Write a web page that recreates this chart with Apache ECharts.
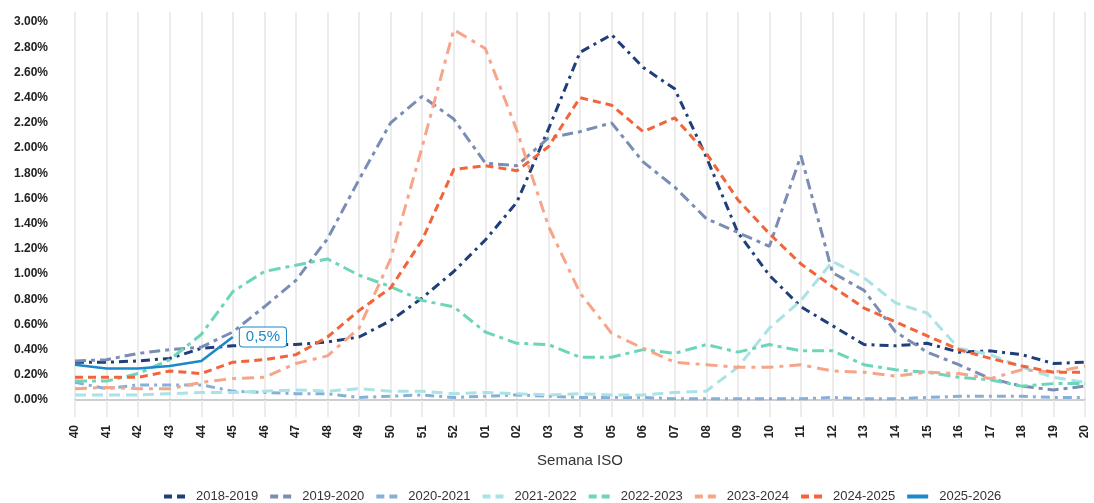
<!DOCTYPE html>
<html>
<head>
<meta charset="utf-8">
<title>Semana ISO</title>
<script src="https://cdn.jsdelivr.net/npm/echarts@6/dist/echarts.min.js"></script>
<style>
  html, body { margin: 0; padding: 0; background: #fff; }
  #chart { width: 1094px; height: 503px; }
</style>
</head>
<body>
<div id="chart"></div>
<script>
const weeks = ['40', '41', '42', '43', '44', '45', '46', '47', '48', '49', '50', '51', '52',
  '01', '02', '03', '04', '05', '06', '07', '08', '09', '10', '11', '12', '13', '14', '15',
  '16', '17', '18', '19', '20']

const s2018 = [0.30, 0.30, 0.31, 0.33, 0.41, 0.43, 0.44, 0.44, 0.46, 0.50, 0.63, 0.81, 1.02,
  1.27, 1.57, 2.15, 2.76, 2.90, 2.64, 2.47, 1.93, 1.33, 0.99, 0.74, 0.59, 0.44, 0.43, 0.45,
  0.38, 0.39, 0.36, 0.29, 0.30]
const s2019 = [0.31, 0.32, 0.37, 0.40, 0.42, 0.54, 0.74, 0.95, 1.28, 1.75, 2.20, 2.41, 2.23,
  1.88, 1.86, 2.08, 2.13, 2.20, 1.89, 1.69, 1.44, 1.33, 1.22, 1.94, 1.01, 0.87, 0.54, 0.38,
  0.28, 0.17, 0.11, 0.08, 0.11]
const s2020 = [0.14, 0.09, 0.12, 0.12, 0.12, 0.07, 0.06, 0.05, 0.05, 0.02, 0.03, 0.04, 0.02,
  0.03, 0.04, 0.03, 0.02, 0.02, 0.02, 0.01, 0.01, 0.01, 0.01, 0.01, 0.02, 0.01, 0.01, 0.02,
  0.03, 0.03, 0.03, 0.02, 0.02]
const s2021 = [0.04, 0.04, 0.04, 0.05, 0.06, 0.06, 0.07, 0.08, 0.07, 0.09, 0.07, 0.07, 0.05,
  0.06, 0.05, 0.04, 0.05, 0.04, 0.04, 0.06, 0.07, 0.26, 0.57, 0.79, 1.10, 0.97, 0.77, 0.69,
  0.41, 0.36, 0.26, 0.18, 0.14]
const s2022 = [0.15, 0.15, 0.21, 0.32, 0.52, 0.86, 1.02, 1.07, 1.12, 0.99, 0.90, 0.79, 0.74,
  0.54, 0.45, 0.44, 0.34, 0.34, 0.40, 0.37, 0.44, 0.38, 0.44, 0.39, 0.39, 0.28, 0.24, 0.22,
  0.18, 0.16, 0.11, 0.13, 0.13]
const s2023 = [0.09, 0.10, 0.09, 0.09, 0.14, 0.17, 0.18, 0.29, 0.35, 0.57, 1.12, 2.01, 2.94,
  2.79, 2.14, 1.38, 0.85, 0.53, 0.41, 0.30, 0.28, 0.26, 0.26, 0.28, 0.23, 0.22, 0.19, 0.22,
  0.21, 0.17, 0.24, 0.22, 0.27]
const s2024 = [0.18, 0.18, 0.18, 0.23, 0.21, 0.30, 0.32, 0.36, 0.50, 0.71, 0.89, 1.27, 1.83,
  1.86, 1.82, 2.01, 2.40, 2.34, 2.13, 2.24, 1.96, 1.59, 1.32, 1.08, 0.90, 0.73, 0.62, 0.51,
  0.40, 0.33, 0.27, 0.22, 0.22]
const s2025 = [0.28, 0.25, 0.25, 0.27, 0.31, 0.50]

const seasons = ['2018-2019', '2019-2020', '2020-2021', '2021-2022', '2022-2023', '2023-2024',
  '2024-2025', '2025-2026']
const seasonData = [s2018, s2019, s2020, s2021, s2022, s2023, s2024, s2025]
const seasonColors = ['#1f3f7a', '#7a8db5', '#86b0d9', '#a9e3e5', '#6dd5b9', '#f7a589',
  '#f2643a', '#1b88c9']
const seasonDash = [
  [9, 5, 3, 5],
  [11, 5, 4, 5],
  [9, 5, 3, 5],
  [11, 6],
  [12, 5, 4, 5],
  [12, 6, 4, 6],
  [8, 5],
  'solid',
]

const lastLabel = '0,5%'

// legend keys: two short blocks for the dashed seasons, a bar for the current one
const dashIcon = 'path://M0,0h8v4h-8zM13,0h8v4h-8z'
const solidIcon = 'path://M0,0h21v4h-21z'

const chart = echarts.init(document.getElementById('chart'))

function buildSeries() {
  return seasons.map((name, i) => {
    const isCurrent = i === seasons.length - 1
    const s = {
      name,
      type: 'line',
      data: seasonData[i],
      showSymbol: false,
      symbol: 'none',
      z: isCurrent ? 10 : 2,
      color: seasonColors[i],
      lineStyle: {
        color: seasonColors[i],
        width: isCurrent ? 2.6 : 3,
        type: seasonDash[i],
        cap: 'butt',
      },
      emphasis: { disabled: true },
    }
    if (isCurrent) {
      s.endLabel = {
        show: true,
        distance: 7,
        formatter: lastLabel,
        color: '#1b88c9',
        fontSize: 15,
        fontFamily: 'Liberation Sans',
        backgroundColor: '#fff',
        borderColor: '#1b88c9',
        borderWidth: 1,
        borderRadius: 3,
        padding: [2, 6],
      }
    }
    return s
  })
}

function getChartOption() {
  return {
    animation: false,
    textStyle: { fontFamily: 'Liberation Sans' },
    grid: { left: 75, right: 9, top: 12, bottom: 103 },
    legend: {
      top: 485,
      left: 159,
      itemWidth: 21,
      itemHeight: 4,
      itemGap: 12,
      textStyle: { fontSize: 13, color: '#333', padding: [0, 0, 0, 6] },
      data: seasons.map((name, i) => ({
        name,
        icon: i === seasons.length - 1 ? solidIcon : dashIcon,
      })),
    },
    xAxis: {
      type: 'category',
      data: weeks,
      boundaryGap: false,
      name: 'Semana ISO',
      nameLocation: 'middle',
      nameGap: 53,
      nameTextStyle: { fontSize: 15, color: '#333' },
      axisLine: { lineStyle: { color: '#bfbfbf', width: 1.5 } },
      axisTick: {
        show: true,
        interval: 0,
        length: 17,
        lineStyle: { color: '#e6e6e6', width: 1.5 },
      },
      axisLabel: {
        interval: 0,
        rotate: 90,
        margin: 25,
        fontSize: 12,
        fontWeight: 'bold',
        color: '#222',
      },
      splitLine: {
        show: true,
        interval: 0,
        lineStyle: { color: '#e6e6e6', width: 1.5 },
      },
    },
    yAxis: {
      type: 'value',
      min: 0,
      max: 3.08,
      interval: 0.2,
      axisLine: { show: false },
      axisTick: { show: false },
      splitLine: { show: false },
      axisLabel: {
        margin: 27,
        fontSize: 12,
        fontWeight: 'bold',
        color: '#222',
        showMaxLabel: false,
        formatter: (v) => v > 3.001 ? '' : v.toFixed(2) + '%',
      },
    },
    series: buildSeries(),
  }
}

chart.setOption(getChartOption())
window.addEventListener('resize', () => chart.resize())
</script>
</body>
</html>
